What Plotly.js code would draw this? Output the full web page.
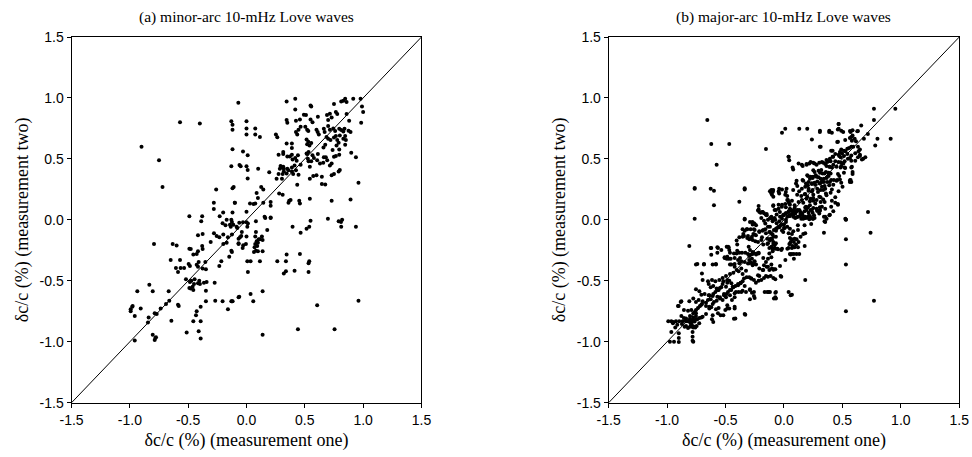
<!DOCTYPE html>
<html><head><meta charset="utf-8">
<script src="https://cdn.plot.ly/plotly-3.0.1.min.js"></script>
<style>html,body{margin:0;padding:0;background:#fff}#chart{width:972px;height:457px}</style>
</head><body><div id="chart"></div>
<script>
// Panel (a): minor-arc 10-mHz Love waves — [measurement one, measurement two]
const minorArc = [
[-0.90,0.60],[-0.75,0.49],[-0.72,0.27],[-0.57,0.80],[-0.40,0.79],[-0.07,0.96],[-0.13,0.81],[-0.12,0.78],[-0.12,0.74],[-0.12,0.58],[-0.13,0.44],[-0.12,0.26],[-0.11,0.27],[-0.26,0.25],[-0.28,0.14],[-0.28,0.09],[-0.20,0.06],[-0.23,0.03],[-0.12,0.06],[-0.10,0.14],[-0.49,0.03],[-0.38,0.03],[-0.06,0.45],
[0.00,0.81],[0.00,0.75],[0.00,0.70],[0.075,0.75],[0.075,0.70],[0.115,0.68],[-0.03,0.56],[0.01,0.53],[0.0,0.44],[0.01,0.41],[-0.05,0.44],[0.01,0.34],[0.10,0.42],[0.195,0.39],[0.126,0.27],[0.144,0.25],[0.098,0.18],[0.087,0.22],[-0.10,0.14],[0.03,0.135],[0.06,0.13],[0.075,0.135],[0.144,0.14],[0.207,0.146],[0.207,0.116],[0.155,0.026],[0.207,0.02],[0.0,0.067],[0.252,0.70],[0.264,0.677],[0.344,0.972],[0.418,0.994],[0.418,0.906],[0.344,0.819],[0.35,0.797],[0.424,0.813],[0.458,0.824],[0.492,0.862],[0.51,0.86],[0.549,0.939],[0.555,0.93],[0.612,0.846],[0.464,0.764],[0.504,0.764],[0.52,0.74],[0.53,0.73],[0.424,0.72],[0.435,0.70],[0.446,0.74],[0.549,0.824],[0.566,0.80],[0.515,0.66],[0.53,0.64],[0.52,0.62],[0.54,0.61],[0.555,0.63],[0.60,0.74],[0.62,0.70],[0.61,0.72],[0.69,0.86],[0.715,0.87],[0.73,0.84],[0.70,0.82],[0.766,0.884],[0.778,0.868],[0.75,0.95],[0.812,0.972],[0.846,0.994],[0.858,0.966],[0.83,0.977],[0.915,0.994],[0.978,0.994],[0.99,0.93],[1.0,0.885],[0.983,0.797],[0.858,0.868],[0.88,0.813],[0.70,0.77],[0.715,0.74],[0.744,0.75],[0.76,0.73],[0.663,0.748],[0.67,0.72],[0.686,0.68],[0.766,0.687],[0.80,0.693],[0.83,0.725],[0.846,0.687],[0.83,0.666],[0.852,0.655],[0.795,0.748],[0.812,0.737],[0.84,0.748],[0.875,0.731],[0.75,0.676],[0.778,0.655],[0.79,0.633],[0.772,0.61],[0.892,0.72],[0.70,0.666],[0.72,0.655],[0.66,0.594],[0.675,0.616],[0.738,0.573],[0.795,0.578],[0.898,0.55],[0.938,0.513],[0.846,0.616],[0.344,0.627],[0.389,0.627],[0.389,0.589],[0.275,0.534],[0.315,0.54],[0.315,0.556],[0.35,0.52],[0.372,0.52],[0.389,0.534],[0.395,0.496],[0.418,0.507],[0.441,0.53],[0.43,0.485],[0.464,0.452],[0.515,0.545],[0.52,0.54],[0.532,0.556],[0.566,0.53],[0.578,0.507],[0.612,0.54],[0.606,0.49],[0.63,0.463],[0.663,0.513],[0.68,0.513],[0.692,0.49],[0.73,0.463],[0.75,0.518],[0.766,0.524],[0.795,0.534],[0.715,0.447],[0.658,0.469],[0.526,0.502],[0.532,0.48],[0.555,0.48],[0.543,0.436],[0.292,0.441],[0.315,0.436],[0.286,0.42],[0.32,0.42],[0.304,0.43],[0.35,0.42],[0.36,0.408],[0.389,0.43],[0.412,0.447],[0.389,0.397],[0.40,0.376],[0.424,0.408],[0.446,0.37],[0.275,0.376],[0.31,0.376],[0.32,0.397],[0.344,0.38],[0.258,0.337],[0.304,0.337],[0.435,0.288],[0.543,0.337],[0.572,0.36],[0.60,0.365],[0.646,0.354],[0.646,0.294],[0.675,0.29],[0.73,0.365],[0.75,0.376],[0.79,0.397],[0.80,0.41],[0.96,0.305],[0.28,0.217],[0.31,0.206],[0.366,0.157],[0.36,0.14],[0.378,0.162],[0.452,0.157],[0.458,0.135],[0.543,0.173],[0.73,0.157],[0.892,0.168],
[0.161,0.015],[0.207,0.015],[0.0,-0.02],[-0.03,-0.02],[0.007,-0.056],[0.012,-0.03],[0.081,-0.012],[-0.085,-0.056],[-0.056,-0.143],[-0.068,-0.192],[-0.04,-0.10],[-0.028,-0.209],[-0.033,-0.23],[-0.045,-0.132],[-0.005,-0.198],[0.0,-0.137],[0.081,-0.099],[0.075,-0.137],[0.087,-0.176],[0.104,-0.16],[0.098,-0.187],[0.115,-0.16],[0.132,-0.137],[0.138,-0.165],[0.092,-0.214],[0.069,-0.225],[0.075,-0.198],[0.081,-0.253],[0.064,-0.264],[0.098,-0.258],[0.138,-0.258],[0.178,-0.083],[0.395,-0.056],[0.464,-0.105],[0.515,-0.072],[0.538,-0.056],[0.549,-0.007],[0.698,0.01],[0.79,-0.012],[0.82,0.0],[0.81,-0.017],[0.812,-0.056],[0.938,-0.056],[0.007,-0.34],[0.035,-0.34],[0.115,-0.34],[0.012,-0.428],[0.264,-0.34],[0.338,-0.34],[0.344,-0.285],[0.458,-0.28],[0.538,-0.34],[0.532,-0.356],[0.32,-0.44],[0.338,-0.422],[0.412,-0.417],[0.532,-0.428],[0.138,-0.586],[0.035,-0.608],[0.058,-0.668],[-0.068,-0.635],[-0.125,-0.668],[0.606,-0.70],[0.96,-0.663],[0.138,-0.942],[0.441,-0.898],[0.755,-0.898],
[-0.388,-0.012],[-0.416,-0.127],[-0.376,-0.116],[-0.205,-0.028],[-0.17,0.0],[-0.13,0.0],[-0.142,-0.04],[-0.135,-0.056],[-0.113,-0.04],[-0.125,-0.017],[-0.18,-0.045],[-0.079,-0.067],[-0.062,-0.023],[-0.793,-0.198],[-0.633,-0.198],[-0.599,-0.21],[-0.49,-0.236],[-0.478,-0.24],[-0.456,-0.285],[-0.427,-0.28],[-0.416,-0.258],[-0.38,-0.215],[-0.376,-0.24],[-0.307,-0.181],[-0.279,-0.11],[-0.256,-0.132],[-0.233,-0.143],[-0.199,-0.121],[-0.159,-0.143],[-0.125,-0.121],[-0.068,-0.154],[-0.199,-0.198],[-0.17,-0.187],[-0.13,-0.253],[-0.125,-0.264],[-0.148,-0.302],[-0.068,-0.198],[-0.216,-0.34],[-0.233,-0.378],[-0.65,-0.33],[-0.57,-0.33],[-0.605,-0.395],[-0.565,-0.395],[-0.587,-0.428],[-0.535,-0.395],[-0.496,-0.362],[-0.485,-0.378],[-0.427,-0.368],[-0.41,-0.345],[-0.376,-0.4],[-0.348,-0.406],[-0.353,-0.345],[-0.416,-0.384],[-0.936,-0.586],[-0.833,-0.532],[-0.804,-0.586],[-0.519,-0.488],[-0.485,-0.51],[-0.473,-0.499],[-0.445,-0.488],[-0.405,-0.499],[-0.365,-0.515],[-0.342,-0.51],[-0.416,-0.521],[-0.399,-0.526],[-0.45,-0.526],[-0.462,-0.548],[-0.456,-0.575],[-0.49,-0.559],[-0.479,-0.564],[-0.273,-0.515],[-0.348,-0.581],[-0.348,-0.668],[-0.268,-0.663],[-0.205,-0.668],[-0.13,-0.668],[-0.119,-0.668],[-0.062,-0.63],[-0.159,-0.734],[-0.667,-0.586],[-0.662,-0.663],[-0.69,-0.69],[-0.736,-0.728],[-0.77,-0.772],[-0.787,-0.767],[-0.839,-0.8],[-0.845,-0.843],[-0.907,-0.728],[-0.98,-0.712],[-0.993,-0.734],[-0.993,-0.75],[-0.976,-0.706],[-0.958,-0.789],[-0.587,-0.696],[-0.581,-0.707],[-0.644,-0.827],[-0.427,-0.75],[-0.433,-0.783],[-0.393,-0.712],[-0.393,-0.832],[-0.393,-0.974],[-0.456,-0.832],[-0.513,-0.925],[-0.41,-0.914],[-0.804,-0.942],[-0.776,-0.964],[-0.787,-0.985],[-0.781,-0.969],[-0.958,-0.99]
];

// Panel (b): major-arc 10-mHz Love waves — [measurement one, measurement two]
const majorArc = [
[-0.656,0.819],[-0.622,0.622],[-0.468,0.622],[-0.576,0.452],[-0.154,0.581],[-0.764,0.255],[-0.764,0.262],[-0.627,0.255],[-0.599,0.239],[-0.599,0.119],[-0.336,0.26],[-0.336,0.25],[-0.382,0.149],[-0.11,0.22],[-0.095,0.237],[-0.103,0.207],[-0.091,0.119],[-0.217,0.113],[-0.217,0.086],[-0.21,0.064],[-0.183,0.064],[-0.148,0.048],[-0.764,0.009],[-0.336,0.009],[-0.12,0.014],[-0.097,0.009],
[0.77,0.912],[0.953,0.912],[0.77,0.819],[-0.017,0.715],[0.011,0.748],[0.131,0.748],[0.199,0.748],[0.308,0.731],[0.388,0.731],[0.41,0.715],[0.468,0.786],[0.468,0.748],[0.49,0.731],[0.565,0.73],[0.587,0.735],[0.633,0.73],[0.576,0.68],[0.605,0.666],[0.616,0.644],[0.684,0.665],[0.80,0.665],[0.913,0.665],[0.239,0.66],[0.462,0.64],[0.576,0.6],[0.542,0.584],[0.633,0.6],[0.65,0.578],[0.781,0.611],[0.314,0.6],[0.49,0.578],[0.525,0.562],[0.479,0.557],[0.416,0.567],[0.439,0.54],[0.416,0.518],[0.393,0.502],[0.382,0.48],[0.468,0.535],[0.485,0.513],[0.513,0.524],[0.542,0.54],[0.49,0.469],[0.508,0.463],[0.519,0.43],[0.485,0.43],[0.565,0.507],[0.576,0.485],[0.61,0.485],[0.65,0.524],[0.667,0.496],[0.696,0.513],[0.576,0.43],[0.587,0.376],[0.565,0.326],[0.576,0.31],[0.04,0.518],[0.045,0.49],[0.074,0.43],[0.125,0.463],[0.16,0.441],[0.194,0.452],[0.217,0.463],[0.228,0.474],[0.262,0.463],[0.279,0.452],[0.302,0.469],[0.325,0.474],[0.353,0.458],[0.37,0.474],[0.388,0.436],[0.41,0.43],[0.422,0.452],[0.251,0.408],[0.308,0.386],[0.33,0.381],[0.359,0.392],[0.382,0.386],[0.399,0.381],[0.199,0.365],[0.228,0.354],[0.245,0.343],[0.279,0.354],[0.314,0.337],[0.342,0.337],[0.365,0.343],[0.165,0.32],[0.188,0.299],[0.211,0.31],[0.239,0.294],[0.262,0.305],[0.285,0.315],[0.308,0.299],[0.325,0.31],[0.348,0.277],[0.37,0.31],[0.103,0.299],[0.114,0.277],[0.462,0.376],[0.45,0.321],[0.479,0.332],[0.393,0.31],[0.422,0.288],[0.41,0.25],[0.211,0.255],[0.239,0.233],[0.251,0.206],[0.291,0.228],[0.314,0.244],[0.336,0.244],[0.359,0.217],[0.177,0.211],[0.199,0.19],[0.228,0.173],[0.251,0.157],[0.268,0.135],[0.302,0.19],[0.314,0.146],[0.336,0.168],[0.348,0.146],[0.41,0.157],[0.439,0.14],[0.462,0.124],[0.165,0.14],[0.188,0.108],[0.222,0.119],[0.251,0.097],[-0.046,0.233],[-0.017,0.25],[0.011,0.206],[0.028,0.195],[0.034,0.162],[0.04,0.146],[-0.097,0.228],[-0.108,0.245],[-0.091,0.19],[0.011,0.13],[0.051,0.124],[0.057,0.08],[0.091,0.097],[0.114,0.08],[0.137,0.07],[0.097,0.053],[0.068,0.048],[0.08,0.026],[0.12,0.026],[0.16,0.037],[0.04,0.064],[-0.017,0.124],[-0.046,0.091],[-0.08,0.08],[-0.006,0.037],[0.028,0.026],[0.182,0.102],[0.194,0.08],[0.211,0.059],[0.228,0.08],[0.245,0.059],[0.257,0.037],[0.279,0.091],[0.308,0.08],[0.325,0.108],[0.393,0.042],[0.342,0.026],[0.365,0.009],[0.525,0.01],[0.719,0.064],[0.177,0.015],[0.217,0.015],[0.245,0.01],
[-0.063,0.043],[-0.034,0.026],[0.0,0.043],[0.017,0.054],[0.04,0.07],[0.063,0.081],[0.085,0.075],[0.108,0.07],[0.131,0.081],[0.154,0.054],[0.2,0.021],[0.217,0.005],[0.285,0.075],[0.308,0.075],[0.388,0.037],[0.422,0.07],[-0.108,0.026],[-0.08,0.015],[-0.063,-0.028],[-0.04,-0.012],[-0.029,-0.045],[0.0,-0.039],[0.017,0.0],[0.006,-0.067],[0.028,-0.056],[0.04,-0.11],[-0.017,-0.088],[-0.006,-0.1],[-0.046,-0.056],[-0.069,-0.072],[-0.086,-0.083],[0.051,0.032],[0.08,0.043],[0.108,0.021],[0.137,0.032],[0.165,0.01],[0.188,0.015],[0.211,0.032],[0.239,0.015],[0.262,0.015],[0.353,-0.017],[0.342,-0.105],[0.53,0.0],[0.53,-0.16],[0.53,-0.367],[0.53,-0.75],[0.741,-0.105],[0.77,-0.663],[0.182,-0.11],[0.165,-0.116],[0.142,-0.138],[0.12,-0.083],[0.08,-0.094],[0.068,-0.116],[0.051,-0.149],[0.068,-0.16],[0.091,-0.154],[0.108,-0.16],[0.085,-0.181],[0.057,-0.181],[0.051,-0.198],[0.074,-0.214],[0.103,-0.203],[0.125,-0.181],[0.12,-0.225],[0.068,-0.231],[0.091,-0.225],[0.04,-0.231],[0.177,-0.214],[0.051,-0.28],[0.068,-0.28],[0.085,-0.28],[0.108,-0.28],[0.131,-0.28],[0.085,-0.318],[-0.12,-0.17],[-0.103,-0.16],[-0.091,-0.181],[-0.097,-0.236],[-0.074,-0.236],[-0.051,-0.242],[-0.017,-0.236],[-0.108,-0.367],[-0.091,-0.41],[-0.029,-0.46],[0.182,-0.493],[-0.12,-0.592],[-0.074,-0.597],[-0.086,-0.646],[-0.069,-0.646],[0.068,-0.614],
[-0.81,-0.214],[-0.753,-0.367],[-0.685,-0.367],[-0.61,-0.367],[-0.582,-0.367],[-0.702,-0.439],[-0.622,-0.231],[-0.622,-0.286],[-0.57,-0.225],[-0.536,-0.247],[-0.57,-0.269],[-0.49,-0.22],[-0.473,-0.225],[-0.485,-0.302],[-0.508,-0.313],[-0.473,-0.318],[-0.405,-0.17],[-0.4,-0.203],[-0.376,-0.313],[-0.382,-0.356],[-0.422,-0.362],[-0.462,-0.367],[-0.336,0.004],[-0.314,-0.078],[-0.336,-0.089],[-0.348,-0.116],[-0.353,-0.138],[-0.308,-0.132],[-0.291,-0.017],[-0.268,-0.039],[-0.257,-0.028],[-0.251,-0.083],[-0.262,-0.116],[-0.24,-0.127],[-0.285,-0.154],[-0.268,-0.165],[-0.245,-0.176],[-0.222,0.076],[-0.2,0.059],[-0.171,0.054],[-0.148,0.037],[-0.194,0.015],[-0.171,-0.007],[-0.137,0.0],[-0.114,0.015],[-0.097,-0.012],[-0.137,-0.056],[-0.16,-0.078],[-0.183,-0.089],[-0.211,-0.094],[-0.125,-0.1],[-0.103,-0.116],[-0.188,-0.143],[-0.142,-0.154],[-0.114,-0.154],[-0.091,-0.138],[-0.069,-0.138],[-0.069,-0.192],[-0.091,-0.198],[-0.142,-0.198],[-0.125,-0.231],[-0.091,-0.236],[-0.097,-0.258],[-0.125,-0.275],[-0.217,-0.269],[-0.234,-0.275],[-0.268,-0.28],[-0.262,-0.269],[-0.285,-0.286],[-0.308,-0.28],[-0.331,-0.269],[-0.359,-0.269],[-0.382,-0.269],[-0.4,-0.253],[-0.405,-0.275],[-0.428,-0.275],[-0.462,-0.269],[-0.297,-0.329],[-0.28,-0.351],[-0.262,-0.362],[-0.297,-0.356],[-0.211,-0.4],[-0.171,-0.373],[-0.137,-0.384],[-0.103,-0.4],[-0.074,-0.406],[-0.222,-0.455],[-0.143,-0.592],[-0.069,-0.592],[-0.074,-0.635],[-0.422,-0.603],[-0.388,-0.592],[-0.354,-0.581],[-0.291,-0.575],[-0.274,-0.597],[-0.291,-0.652],[-0.257,-0.625],[-0.485,-0.493],[-0.468,-0.499],[-0.45,-0.521],[-0.439,-0.548],[-0.416,-0.542],[-0.393,-0.526],[-0.371,-0.515],[-0.354,-0.504],[-0.342,-0.482],[-0.319,-0.471],[-0.297,-0.471],[-0.28,-0.482],[-0.257,-0.493],[-0.24,-0.515],[-0.217,-0.499],[-0.194,-0.493],[-0.171,-0.477],[-0.154,-0.46],[-0.137,-0.466],[-0.114,-0.46],[-0.091,-0.477],[-0.074,-0.488],[-0.525,-0.526],[-0.548,-0.559],[-0.565,-0.575],[-0.587,-0.592],[-0.605,-0.608],[-0.639,-0.619],[-0.627,-0.652],[-0.65,-0.657],[-0.667,-0.679],[-0.696,-0.668],[-0.707,-0.696],[-0.719,-0.707],[-0.736,-0.723],[-0.753,-0.739],[-0.764,-0.756],[-0.753,-0.789],[-0.776,-0.8],[-0.804,-0.811],[-0.782,-0.822],[-0.764,-0.833],[-0.799,-0.849],[-0.742,-0.816],[-0.725,-0.849],[-0.696,-0.794],[-0.667,-0.772],[-0.639,-0.728],[-0.622,-0.717],[-0.599,-0.674],[-0.576,-0.663],[-0.548,-0.635],[-0.513,-0.619],[-0.491,-0.608],[-0.479,-0.592],[-0.451,-0.575],[-0.61,-0.783],[-0.616,-0.816],[-0.605,-0.838],[-0.519,-0.783],[-0.502,-0.739],[-0.485,-0.701],[-0.468,-0.728],[-0.422,-0.712],[-0.428,-0.811],[-0.331,-0.778],[-0.867,-0.832],[-0.839,-0.832],[-0.821,-0.832],[-0.924,-0.832],[-0.896,-0.832],[-0.947,-0.838],[-0.964,-0.832],[-0.884,-0.674],[-0.907,-0.706],[-0.878,-0.789],[-0.856,-0.805],[-0.839,-0.827],[-0.913,-0.86],[-0.93,-0.882],[-0.964,-0.92],[-0.9,-0.93],[-0.9,-0.969],[-0.9,-1.002],[-0.976,-1.0],[-0.941,-1.0],[-0.782,-0.876],[-0.782,-0.92],[-0.782,-0.958],[-0.782,-0.991],[-0.776,-1.0],[-0.804,-0.876],[-0.821,-0.887],[-0.85,-0.876],[-0.759,-0.882],[-0.747,-0.871],[-0.95,-0.849],[-0.99,-0.832],
[-0.27,-0.017],[-0.251,-0.034],[-0.239,-0.045],[-0.354,-0.078],[-0.319,-0.078],[-0.285,-0.078],[-0.257,-0.078],[-0.382,-0.143],[-0.342,-0.132],[-0.314,-0.149],[-0.297,-0.16],[-0.274,-0.138],[-0.251,-0.121],[-0.211,-0.1],[-0.177,-0.083],[-0.154,-0.11],[-0.12,-0.1],[-0.097,-0.121],[-0.068,-0.089],[-0.04,-0.061],[-0.011,-0.039],[0.017,-0.017],[-0.017,0.01],[0.017,0.054],[0.046,0.037],[0.057,0.081],[-0.222,-0.182],[-0.194,-0.165],[-0.177,-0.203],[-0.137,-0.192],[-0.108,-0.22],[-0.08,-0.209],[-0.057,-0.236],[-0.023,-0.247],[0.029,-0.236],[0.046,-0.198],[-0.302,-0.22],[-0.291,-0.247],[-0.268,-0.264],[-0.239,-0.285],[-0.217,-0.275],[-0.297,-0.296],[-0.274,-0.318],[-0.251,-0.34],[-0.627,-0.231],[-0.565,-0.231],[-0.479,-0.22],[-0.468,-0.247],[-0.508,-0.307],[-0.49,-0.318],[-0.456,-0.318],[-0.422,-0.313],[-0.393,-0.329],[-0.365,-0.34],[-0.336,-0.346],[-0.308,-0.357],[-0.268,-0.373],[-0.239,-0.367],[-0.177,-0.313],[-0.154,-0.346],[-0.137,-0.318],[-0.108,-0.307],[-0.148,-0.384],[-0.182,-0.411],[-0.125,-0.411],[-0.085,-0.406],[-0.034,-0.378],[0.012,-0.329],[0.057,-0.285],[-0.741,-0.362],[-0.684,-0.362],[-0.582,-0.362],[-0.451,-0.367],[-0.422,-0.384],[-0.405,-0.411],[-0.388,-0.422],[-0.365,-0.4],[-0.354,-0.444],[-0.325,-0.417],[-0.433,-0.433],[-0.462,-0.444],[-0.496,-0.46],[-0.525,-0.477],[-0.279,-0.482],[-0.211,-0.46],[-0.177,-0.411],[-0.023,-0.466],[-0.696,-0.493],[-0.65,-0.504],[-0.616,-0.493],[-0.587,-0.504],[-0.553,-0.493],[-0.519,-0.504],[-0.485,-0.515],[-0.644,-0.526],[-0.627,-0.553],[-0.605,-0.542],[-0.576,-0.564],[-0.559,-0.575],[-0.536,-0.553],[-0.496,-0.548],[-0.462,-0.575],[-0.433,-0.553],[-0.393,-0.537],[-0.371,-0.521],[-0.336,-0.542],[-0.753,-0.57],[-0.724,-0.586],[-0.707,-0.614],[-0.679,-0.608],[-0.644,-0.619],[-0.61,-0.625],[-0.57,-0.63],[-0.548,-0.646],[-0.513,-0.608],[-0.496,-0.635],[-0.462,-0.619],[-0.422,-0.635],[-0.411,-0.592],[-0.365,-0.592],[-0.325,-0.592],[-0.291,-0.57],[-0.257,-0.592],[-0.251,-0.641],[-0.165,-0.592],[-0.131,-0.592],[0.057,-0.619],[0.04,-0.592],[-0.81,-0.668],[-0.776,-0.646],[-0.753,-0.674],[-0.73,-0.657],[-0.702,-0.69],[-0.667,-0.707],[-0.639,-0.712],[-0.61,-0.69],[-0.582,-0.734],[-0.559,-0.723],[-0.525,-0.657],[-0.485,-0.728],[-0.445,-0.657],[-0.422,-0.728],[-0.336,-0.772],[-0.416,-0.81],[-0.878,-0.668],[-0.901,-0.707],[-0.856,-0.739],[-0.821,-0.745],[-0.793,-0.739],[-0.776,-0.767],[-0.753,-0.767],[-0.804,-0.789],[-0.838,-0.81],[-0.81,-0.827],[-0.787,-0.838],[-0.753,-0.816],[-0.724,-0.805],[-0.707,-0.8],[-0.873,-0.854],[-0.838,-0.871],[-0.787,-0.865],[-0.776,-0.882],[-0.764,-0.876],[-0.565,-0.767],[-0.542,-0.783],
[0.307,0.72],[0.307,0.6],[0.387,0.72],[0.467,0.786],[0.461,0.742],[0.507,0.72],[0.57,0.72],[0.587,0.693],[0.627,0.726],[0.661,0.775],[0.718,0.704],[0.456,0.638],[0.524,0.655],[0.564,0.671],[0.581,0.649],[0.593,0.6],[0.558,0.589],[0.513,0.567],[0.496,0.546],[0.473,0.524],[0.404,0.567],[0.421,0.518],[0.364,0.491],[0.399,0.48],[0.439,0.48],[0.467,0.474],[0.519,0.48],[0.547,0.502],[0.576,0.529],[0.61,0.546],[0.638,0.562],[0.65,0.535],[0.633,0.513],[0.678,0.502],[0.039,0.518],[0.079,0.414],[0.153,0.453],[0.193,0.458],[0.25,0.469],[0.336,0.469],[0.364,0.442],[0.393,0.436],[0.45,0.436],[0.49,0.442],[0.524,0.425],[0.581,0.436],[0.587,0.392],[0.564,0.31],[0.57,0.327],[0.513,0.387],[0.473,0.36],[0.456,0.327],[0.49,0.305],[0.501,0.272],[0.467,0.234],[0.108,0.321],[0.159,0.327],[0.205,0.36],[0.222,0.338],[0.25,0.354],[0.273,0.365],[0.296,0.349],[0.325,0.332],[0.342,0.31],[0.307,0.3],[0.267,0.289],[0.239,0.3],[0.205,0.283],[0.182,0.272],[0.153,0.256],[0.13,0.234],[0.113,0.206],[0.148,0.196],[0.182,0.212],[0.21,0.239],[0.245,0.245],[0.285,0.256],[0.325,0.272],[0.353,0.256],[0.387,0.283],[0.404,0.327],[0.427,0.327],[0.382,0.36],[0.347,0.381],[0.319,0.409],[0.296,0.403],[0.262,0.392],[-0.12,0.234],[-0.092,0.245],[-0.041,0.256],[-0.041,0.217],[0.022,0.256],[0.016,0.228],[0.079,0.245],[0.028,0.163],[0.045,0.135],[0.068,0.157],[0.091,0.119],[0.125,0.146],[0.153,0.163],[0.193,0.174],[0.222,0.152],[0.25,0.179],[0.279,0.163],[0.313,0.185],[0.364,0.201],[0.399,0.223],[0.439,0.185],[0.461,0.13],[0.404,0.108],[0.353,0.092],[0.307,0.103],[0.285,0.075],[0.239,0.081],[0.205,0.103],[0.176,0.07],[0.142,0.053],[0.113,0.075],[0.079,0.064],[0.051,0.092],[0.016,0.103],[-0.018,0.108],[-0.046,0.124],[-0.092,0.113],[-0.069,0.081],[-0.035,0.064],[-0.006,0.037],[0.045,0.031],[0.096,0.015],[0.148,0.01],[0.182,0.026],[0.222,0.031],[0.25,0.01],[0.302,0.053],[0.353,0.026],[-0.103,0.01],[-0.075,0.0],[-0.155,0.042],[-0.183,0.064],[-0.16,-0.029],[-0.12,-0.056],[-0.058,-0.067],[0.0,-0.067],[0.051,-0.072],[0.119,-0.045],[0.176,-0.045],[0.233,-0.034],[0.347,-0.012],[0.53,0.004]
];

const diagonal = [-1.5, 1.5];
const tickValues = [-1.5, -1.0, -0.5, 0.0, 0.5, 1.0, 1.5];
const tickLabels = ["-1.5", "-1.0", "-0.5", "0.0", "0.5", "1.0", "1.5"];
const panelTitles = ["(a) minor-arc 10-mHz Love waves", "(b) major-arc 10-mHz Love waves"];
const xTitle = "δc/c (%) (measurement one)";
const yTitle = "δc/c (%) (measurement two)";

const serif = "Liberation Serif, Times New Roman, serif";
const sans = "Liberation Sans Narrow, Liberation Sans, Arial, sans-serif";

function pts(arr, xa, ya) {
  return {x: arr.map(p => p[0]), y: arr.map(p => p[1]), xaxis: xa, yaxis: ya,
    type: "scatter", mode: "markers", hoverinfo: "skip",
    marker: {color: "#000", size: 4, line: {width: 0}}};
}
function diag(xa, ya) {
  return {x: diagonal, y: diagonal, xaxis: xa, yaxis: ya, type: "scatter", mode: "lines",
    hoverinfo: "skip", line: {color: "#000", width: 1}};
}
function axis(domain, anchor, title) {
  return {domain: domain, anchor: anchor, range: [-1.5, 1.5], autorange: false,
    tickmode: "array", tickvals: tickValues, ticktext: tickLabels,
    ticks: "outside", ticklen: 4, tickwidth: 1, tickcolor: "#000",
    showline: true, linecolor: "#000", linewidth: 1, mirror: true,
    showgrid: false, zeroline: false,
    tickfont: {family: sans, size: 14, color: "#000"},
    title: {text: title, font: {family: serif, size: 18, color: "#000"}, standoff: 6}};
}

const ydom = [0.1188, 0.919];
const layout = {
  width: 972, height: 457, margin: {l: 0, r: 0, t: 0, b: 0},
  paper_bgcolor: "#fff", plot_bgcolor: "#fff", showlegend: false,
  xaxis: axis([0.0736, 0.4336], "y", xTitle),
  yaxis: axis(ydom, "x", yTitle),
  xaxis2: axis([0.6262, 0.9869], "y2", xTitle),
  yaxis2: axis(ydom, "x2", yTitle),
  annotations: [
    {text: panelTitles[0], xref: "paper", yref: "paper", x: 0.2536, y: 0.962, xanchor: "center", yanchor: "middle",
     showarrow: false, font: {family: serif, size: 15.5, color: "#000"}},
    {text: panelTitles[1], xref: "paper", yref: "paper", x: 0.8065, y: 0.962, xanchor: "center", yanchor: "middle",
     showarrow: false, font: {family: serif, size: 15.5, color: "#000"}}
  ]
};

Plotly.newPlot("chart", [diag("x","y"), pts(minorArc,"x","y"), diag("x2","y2"), pts(majorArc,"x2","y2")],
  layout, {staticPlot: true, displayModeBar: false});
</script></body></html>
